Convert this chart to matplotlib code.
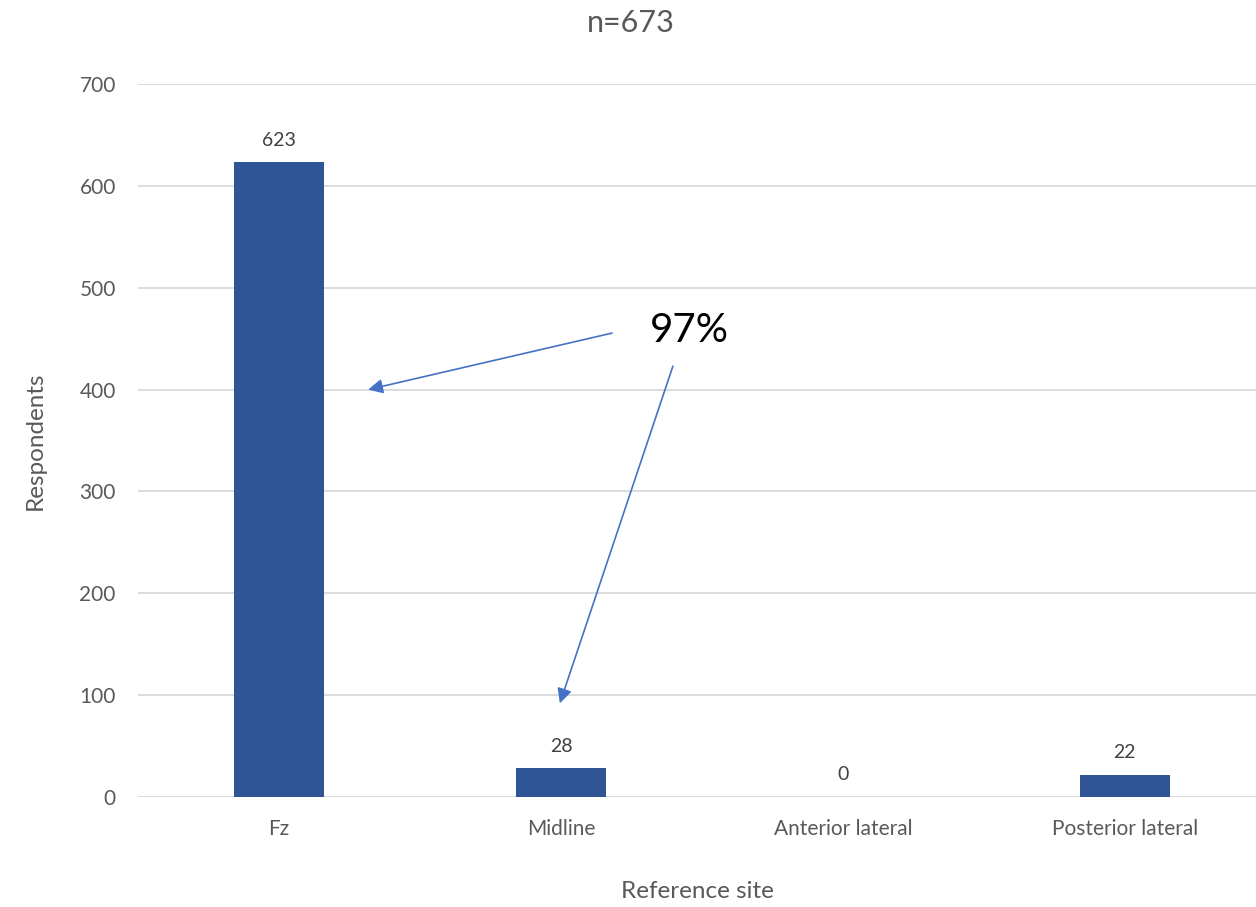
import matplotlib.pyplot as plt

sites = ["Fz", "Midline", "Anterior lateral", "Posterior lateral"]
respondents = [623, 28, 0, 22]
y_ticks = [0, 100, 200, 300, 400, 500, 600, 700]
total = 673

BAR = "#2F5597"
ARROW = "#4472C4"
GREY = "#595959"

plt.rcParams["font.family"] = ["Lato", "DejaVu Sans"]

fig = plt.figure(figsize=(12.56, 9.07), dpi=100)
ax = fig.add_axes([0.1099, 0.1213, 0.8901, 0.786])

x = range(len(sites))
bars = ax.bar(x, respondents, width=0.32, color=BAR, zorder=3)
for rect, v in zip(bars, respondents):
    ax.annotate(str(v), (rect.get_x() + rect.get_width() / 2, v),
                xytext=(0, 10), textcoords="offset points",
                ha="center", va="bottom", fontsize=14, color="#404040")

ax.set_xlim(-0.5, 3.465)
ax.set_ylim(0, 700)
ax.set_yticks(y_ticks)
ax.set_xticks(list(x))
ax.set_xticklabels(sites, fontsize=15.5)
ax.tick_params(axis="both", length=0, labelsize=15, colors=GREY)
ax.tick_params(axis="y", pad=16)
ax.tick_params(axis="x", pad=16)
ax.grid(axis="y", color="#D9D9D9", lw=1.3, zorder=0)
for s in ax.spines.values():
    s.set_visible(False)

ax.set_ylabel("Respondents", fontsize=17.5, color=GREY, labelpad=24)
ax.set_xlabel("Reference site", fontsize=17.5, color=GREY, labelpad=30)
fig.text(0.5025, 0.975, f"n={total}", ha="center", va="center",
         fontsize=22, color=GREY)

# callout pointing at the two midline groups
ax.text(1.457, 458, "97%", fontsize=29, color="black", ha="center", va="center")
arrow = dict(arrowstyle="-|>", color=ARROW, lw=1.2, mutation_scale=22,
             shrinkA=0, shrinkB=0)
ax.annotate("", xy=(0.316, 400), xytext=(1.181, 455.5), arrowprops=arrow)
ax.annotate("", xy=(0.996, 92), xytext=(1.397, 423), arrowprops=arrow)

fig.savefig("out.png", dpi=100)
